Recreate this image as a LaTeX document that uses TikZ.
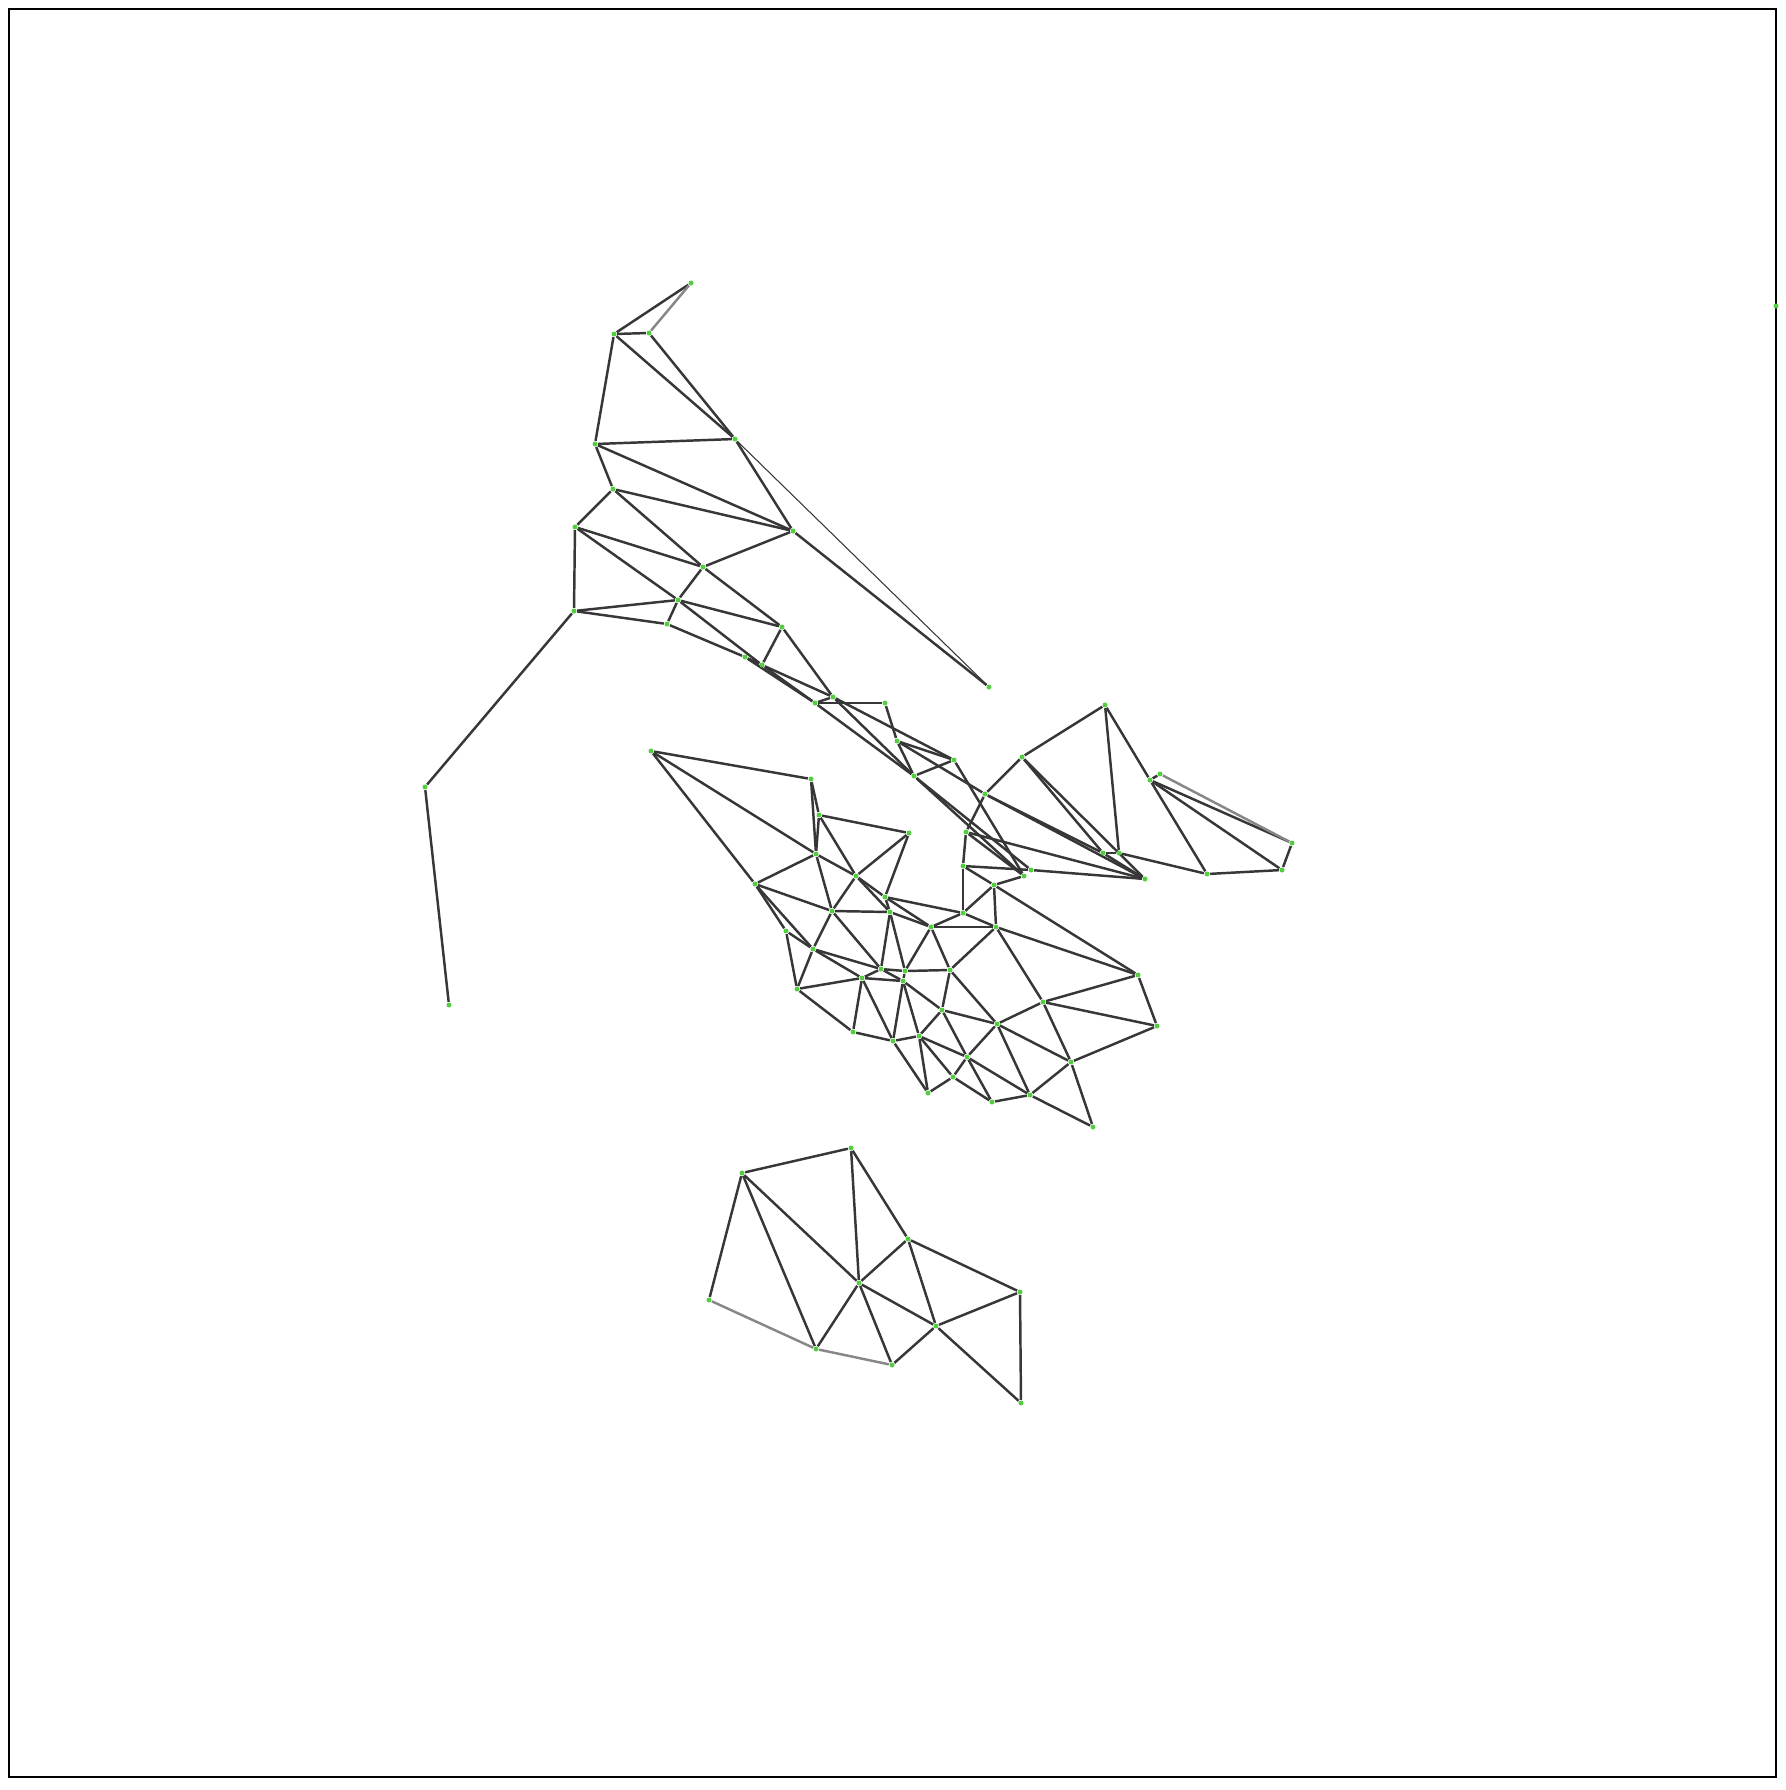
\documentclass[tikz,border=0pt]{standalone}
\usepackage{xcolor}
\usepackage{tikz}
\pgfdeclarelayer{edges}
\pgfsetlayers{edges,main}
\definecolor{vgreen}{RGB}{85,205,65}
\definecolor{edgedark}{RGB}{55,55,55}
\definecolor{edgelight}{RGB}{135,135,135}

\begin{document}
\begin{tikzpicture}[x=0.01cm, y=-0.01cm,
    every node/.style={circle, fill=vgreen, inner sep=0pt, minimum size=0.05cm},
    link/.style={draw=edgedark, line width=0.7pt},
    faint/.style={draw=edgelight, line width=0.7pt},
    hair/.style={draw=edgedark, line width=0.3pt}]
\useasboundingbox (0,0) rectangle (1786,1790);
\draw[line width=0.6pt] (9,9) rectangle (1776,1777);

    % upper branch
    \node (t1) at (691,283) {};
    \node (t2) at (614,334) {};
    \node (t3) at (649,333) {};
    \node (t4) at (595,444) {};
    \node (t5) at (735,439) {};
    \node (t6) at (613,489) {};
    \node (a1) at (575,527) {};
    \node (a2) at (793,531) {};
    \node (a3) at (703,567) {};
    \node (a4) at (678,600) {};
    \node (a5) at (574,611) {};
    \node (a6) at (667,624) {};
    \node (a7) at (782,627) {};
    \node (a8) at (745,657) {};
    \node (a9) at (762,665) {};
    \node (a10) at (833,697) {};
    \node (a11) at (815,703) {};
    \node (l1) at (425,787) {};
    \node (l2) at (449,1005) {};
    \node (r1) at (1776,306) {};

    \node (b1) at (885,703) {};
    \node (b2) at (989,687) {};
    \node (b3) at (897,741) {};
    \node (b4) at (954,760) {};
    \node (b5) at (914,776) {};
    \node (b6) at (1022,757) {};
    \node (b7) at (985,794) {};
    \node (b8) at (966,832) {};
    \node (b9) at (963,866) {};
    \node (b10) at (1031,870) {};
    \node (b11) at (1024,876) {};
    \node (b12) at (994,885) {};

    \node (d1) at (1105,705) {};
    \node (d2) at (1150,780) {};
    \node (d3) at (1160,774) {};
    \node (d4) at (1292,843) {};
    \node (d5) at (1282,870) {};
    \node (d6) at (1207,874) {};
    \node (d7) at (1119,853) {};
    \node (d8) at (1103,853) {};
    \node (d9) at (1145,879) {};

    % middle mesh
    \node (e1) at (651,751) {};
    \node (e2) at (811,779) {};
    \node (e3) at (819,815) {};
    \node (e4) at (909,833) {};
    \node (e5) at (816,854) {};
    \node (e6) at (755,884) {};
    \node (e7) at (856,876) {};
    \node (e8) at (885,897) {};
    \node (e9) at (832,911) {};
    \node (e10) at (890,912) {};
    \node (e11) at (931,927) {};
    \node (e12) at (786,931) {};
    \node (e13) at (813,949) {};
    \node (e14) at (881,969) {};
    \node (e15) at (905,971) {};
    \node (e16) at (862,978) {};
    \node (e17) at (903,981) {};
    \node (e18) at (797,989) {};
    \node (f1) at (963,913) {};
    \node (f2) at (996,927) {};
    \node (f3) at (950,970) {};
    \node (f4) at (1043,1002) {};
    \node (f5) at (942,1010) {};
    \node (f6) at (997,1024) {};
    \node (f7) at (853,1032) {};
    \node (f8) at (893,1041) {};
    \node (f9) at (919,1036) {};
    \node (f10) at (967,1057) {};
    \node (f11) at (953,1077) {};
    \node (f12) at (928,1093) {};
    \node (f13) at (992,1102) {};
    \node (f14) at (1030,1095) {};
    \node (g1) at (1138,975) {};
    \node (g2) at (1157,1026) {};
    \node (g3) at (1071,1062) {};
    \node (g4) at (1093,1127) {};

    % lower patch
    \node (h1) at (851,1148) {};
    \node (h2) at (742,1173) {};
    \node (h3) at (908,1239) {};
    \node (h4) at (859,1283) {};
    \node (h5) at (1020,1292) {};
    \node (h6) at (709,1300) {};
    \node (h7) at (936,1326) {};
    \node (h8) at (816,1349) {};
    \node (h9) at (892,1365) {};
    \node (h10) at (1021,1403) {};

\begin{pgfonlayer}{edges}
    \draw[link] (t1) -- (t2);
    \draw[faint] (t1) -- (t3);
    \draw[link] (t2) -- (t3);
    \draw[link] (t2) -- (t4);
    \draw[link] (t2) -- (t5);
    \draw[link] (t3) -- (t5);
    \draw[link] (t4) -- (t5);
    \draw[link] (t4) -- (t6);
    \draw[link] (t4) -- (a2);
    \draw[link] (t5) -- (a2);
    \draw[hair] (t5) -- (b2);
    \draw[link] (a2) -- (b2);
    \draw[link] (t6) -- (a1);
    \draw[link] (t6) -- (a2);
    \draw[link] (t6) -- (a3);
    \draw[link] (a1) -- (a3);
    \draw[link] (a1) -- (a4);
    \draw[link] (a1) -- (a5);
    \draw[link] (a2) -- (a3);
    \draw[link] (a3) -- (a4);
    \draw[link] (a3) -- (a7);
    \draw[link] (a4) -- (a5);
    \draw[link] (a4) -- (a6);
    \draw[link] (a4) -- (a7);
    \draw[link] (a4) -- (a9);
    \draw[link] (a5) -- (a6);
    \draw[link] (a5) -- (l1);
    \draw[link] (l1) -- (l2);
    \draw[link] (a6) -- (a8);
    \draw[link] (a8) -- (a9);
    \draw[link] (a8) -- (a11);
    \draw[link] (a9) -- (a11);
    \draw[link] (a7) -- (a9);
    \draw[link] (a7) -- (a10);
    \draw[link] (a9) -- (a10);
    \draw[link] (a10) -- (a11);

    \draw[link] (a11) -- (b1);
    \draw[link] (b1) -- (b3);
    \draw[link] (b3) -- (b4);
    \draw[link] (a10) -- (b4);
    \draw[link] (a10) -- (b5);
    \draw[link] (a11) -- (b5);
    \draw[link] (b3) -- (b5);
    \draw[link] (b4) -- (b5);
    \draw[link] (b3) -- (b7);
    \draw[link] (b4) -- (b11);
    \draw[link] (b5) -- (b10);
    \draw[link] (b5) -- (b11);
    \draw[link] (b6) -- (b7);
    \draw[link] (b7) -- (b8);
    \draw[link] (b8) -- (b9);
    \draw[link] (b8) -- (b11);
    \draw[link] (b9) -- (b10);
    \draw[link] (b9) -- (b12);
    \draw[link] (b11) -- (b12);
    \draw[link] (b8) -- (d9);
    \draw[link] (b10) -- (d9);
    \draw[link] (b7) -- (d8);
    \draw[link] (b7) -- (d9);
    \draw[link] (b6) -- (d1);
    \draw[link] (b6) -- (d8);
    \draw[link] (b6) -- (d9);

    \draw[link] (d1) -- (d2);
    \draw[link] (d1) -- (d7);
    \draw[link] (d2) -- (d3);
    \draw[link] (d2) -- (d4);
    \draw[link] (d2) -- (d5);
    \draw[link] (d2) -- (d6);
    \draw[faint] (d3) -- (d4);
    \draw[link] (d4) -- (d5);
    \draw[link] (d5) -- (d6);
    \draw[link] (d6) -- (d7);
    \draw[link] (d7) -- (d8);
    \draw[link] (d8) -- (d9);

    \draw[link] (e1) -- (e2);
    \draw[link] (e1) -- (e5);
    \draw[link] (e1) -- (e6);
    \draw[link] (e2) -- (e3);
    \draw[link] (e2) -- (e5);
    \draw[link] (e3) -- (e4);
    \draw[link] (e3) -- (e5);
    \draw[link] (e3) -- (e7);
    \draw[link] (e4) -- (e7);
    \draw[link] (e4) -- (e8);
    \draw[link] (e5) -- (e6);
    \draw[link] (e5) -- (e7);
    \draw[link] (e5) -- (e9);
    \draw[link] (e6) -- (e9);
    \draw[link] (e6) -- (e12);
    \draw[link] (e6) -- (e13);
    \draw[link] (e7) -- (e8);
    \draw[link] (e7) -- (e9);
    \draw[link] (e7) -- (e10);
    \draw[link] (e8) -- (e10);
    \draw[link] (e8) -- (e11);
    \draw[link] (e8) -- (f1);
    \draw[link] (e9) -- (e10);
    \draw[link] (e9) -- (e13);
    \draw[link] (e9) -- (e14);
    \draw[link] (e10) -- (e11);
    \draw[link] (e10) -- (e14);
    \draw[link] (e10) -- (e15);
    \draw[link] (e11) -- (e15);
    \draw[link] (e11) -- (f1);
    \draw[link] (e11) -- (f2);
    \draw[link] (e11) -- (f3);
    \draw[link] (e12) -- (e13);
    \draw[link] (e12) -- (e18);
    \draw[link] (e13) -- (e14);
    \draw[link] (e13) -- (e16);
    \draw[link] (e13) -- (e18);
    \draw[link] (e14) -- (e15);
    \draw[link] (e14) -- (e16);
    \draw[link] (e14) -- (e17);
    \draw[link] (e15) -- (e17);
    \draw[link] (e15) -- (f3);
    \draw[link] (e16) -- (e17);
    \draw[link] (e16) -- (e18);
    \draw[link] (e16) -- (f7);
    \draw[link] (e16) -- (f8);
    \draw[link] (e17) -- (f5);
    \draw[link] (e17) -- (f8);
    \draw[link] (e17) -- (f9);
    \draw[link] (e18) -- (f7);

    \draw[link] (f1) -- (f2);
    \draw[link] (f1) -- (b9);
    \draw[link] (f1) -- (b12);
    \draw[link] (f2) -- (b12);
    \draw[link] (f2) -- (f3);
    \draw[link] (f2) -- (f4);
    \draw[link] (f2) -- (g1);
    \draw[link] (f3) -- (f5);
    \draw[link] (f3) -- (f6);
    \draw[link] (f4) -- (f6);
    \draw[link] (f4) -- (g1);
    \draw[link] (f4) -- (g2);
    \draw[link] (f4) -- (g3);
    \draw[link] (f5) -- (f6);
    \draw[link] (f5) -- (f9);
    \draw[link] (f5) -- (f10);
    \draw[link] (f6) -- (f10);
    \draw[link] (f6) -- (f14);
    \draw[link] (f6) -- (g3);
    \draw[link] (f7) -- (f8);
    \draw[link] (f8) -- (f9);
    \draw[link] (f8) -- (f12);
    \draw[link] (f9) -- (f10);
    \draw[link] (f9) -- (f11);
    \draw[link] (f9) -- (f12);
    \draw[link] (f10) -- (f11);
    \draw[link] (f10) -- (f13);
    \draw[link] (f10) -- (f14);
    \draw[link] (f11) -- (f12);
    \draw[link] (f11) -- (f13);
    \draw[link] (f13) -- (f14);
    \draw[link] (f14) -- (g3);
    \draw[link] (f14) -- (g4);
    \draw[link] (g1) -- (g2);
    \draw[link] (g1) -- (b12);
    \draw[link] (g2) -- (g3);
    \draw[link] (g3) -- (g4);

    \draw[link] (h1) -- (h2);
    \draw[link] (h1) -- (h3);
    \draw[link] (h1) -- (h4);
    \draw[link] (h2) -- (h4);
    \draw[link] (h2) -- (h6);
    \draw[link] (h2) -- (h8);
    \draw[link] (h3) -- (h4);
    \draw[link] (h3) -- (h5);
    \draw[link] (h3) -- (h7);
    \draw[link] (h4) -- (h7);
    \draw[link] (h4) -- (h8);
    \draw[link] (h4) -- (h9);
    \draw[link] (h5) -- (h7);
    \draw[link] (h5) -- (h10);
    \draw[faint] (h6) -- (h8);
    \draw[faint] (h8) -- (h9);
    \draw[link] (h7) -- (h9);
    \draw[link] (h7) -- (h10);
\end{pgfonlayer}
\end{tikzpicture}
\end{document}
